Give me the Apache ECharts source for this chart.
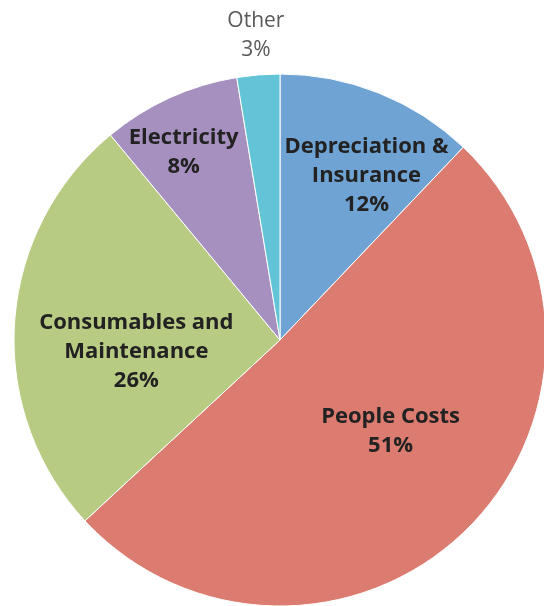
<!DOCTYPE html>
<html><head><meta charset="utf-8">
<script src="https://cdn.jsdelivr.net/npm/echarts@6/dist/echarts.min.js"></script>
<style>html,body{margin:0;padding:0;background:#fff}#c{width:544px;height:606px}</style>
</head><body><div id="c"></div>
<script>
const categories = ['Depreciation &\nInsurance', 'People Costs', 'Consumables and\nMaintenance', 'Electricity', 'Other'];
const values = [12.1, 51.0, 25.9, 8.4, 2.6];
const colors = ['#6fa3d3', '#dc7b70', '#b8cb82', '#a690bf', '#63c4d8'];
const labelOffsets = [[36, -38], [15, -6], [-8, 21], [-40, -64], [-13, -169]];

const chart = echarts.init(document.getElementById('c'));
chart.setOption({
  animation: false,
  series: [{
    type: 'pie',
    center: [280, 340],
    radius: 266,
    startAngle: 90,
    clockwise: true,
    avoidLabelOverlap: false,
    itemStyle: { borderColor: '#fff', borderWidth: 1 },
    label: {
      position: 'inside',
      fontFamily: 'Open Sans',
      fontSize: 22,
      fontWeight: 'bold',
      color: '#222',
      lineHeight: 29,
      align: 'center',
      formatter: p => p.name + '\n' + Math.round(p.value) + '%'
    },
    labelLine: { show: false },
    labelLayout: p => ({ dx: labelOffsets[p.dataIndex][0], dy: labelOffsets[p.dataIndex][1] }),
    data: categories.map((n, i) => {
      const d = { name: n, value: values[i], itemStyle: { color: colors[i] } };
      if (i === 4) d.label = { fontWeight: 'normal', color: '#595959', fontSize: 21 };
      return d;
    })
  }]
});
</script></body></html>
